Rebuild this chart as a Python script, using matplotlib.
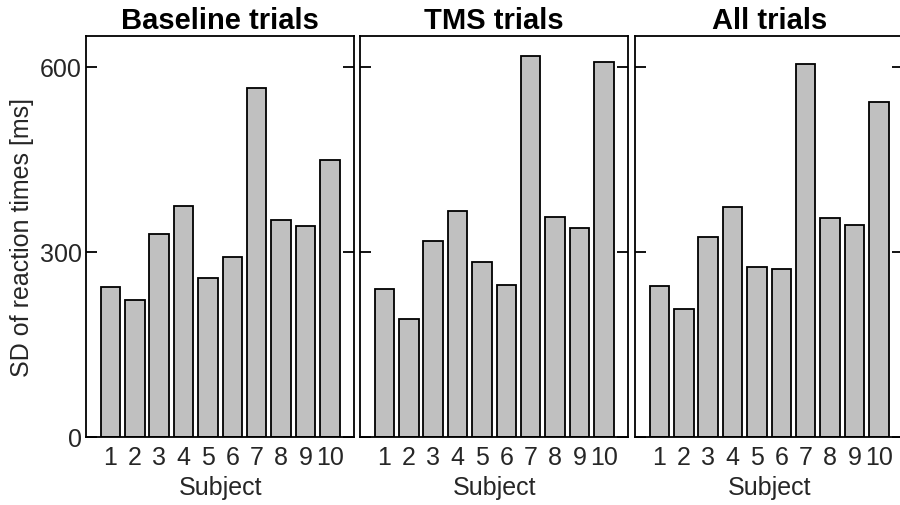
import matplotlib
matplotlib.use("Agg")
import matplotlib.pyplot as plt

subjects = [1, 2, 3, 4, 5, 6, 7, 8, 9, 10]
baseline_sd = [243, 221, 328, 374, 257, 292, 565, 352, 341, 448]
tms_sd = [240, 191, 318, 366, 284, 246, 617, 357, 338, 608]
all_sd = [244, 207, 324, 372, 275, 272, 605, 355, 344, 543]
titles = ["Baseline trials", "TMS trials", "All trials"]
yticks = [0, 300, 600]

plt.rcParams['font.family'] = ['Liberation Sans', 'DejaVu Sans']
txt = '#262626'

fig = plt.figure(figsize=(9, 5.06), dpi=100)
lefts = [0.0956, 0.4, 0.7056]
datos = [baseline_sd, tms_sd, all_sd]

for i, (left, vals, titulo) in enumerate(zip(lefts, datos, titles)):
    ax = fig.add_axes([left, 0.135, 0.298, 0.791])
    ax.bar(subjects, vals, width=0.8, color='#c0c0c0', edgecolor='black', linewidth=1.3)
    ax.set_xlim(0, 11)
    ax.set_ylim(0, 649)
    ax.set_xticks(subjects)
    ax.set_xticklabels([str(s) for s in subjects], fontsize=18, color=txt)
    ax.set_yticks(yticks)
    ax.tick_params(axis='x', length=0, pad=6)
    ax.tick_params(axis='y', direction='in', length=8, width=1.3, right=True, left=True,
                   labelsize=18, labelcolor=txt, pad=3)
    if i > 0:
        ax.set_yticklabels([])
    else:
        ax.set_ylabel('SD of reaction times [ms]', fontsize=18, color=txt, labelpad=4)
    for sp in ax.spines.values():
        sp.set_linewidth(1.3)
    ax.set_xlabel('Subject', fontsize=18, color=txt, labelpad=4)
    ax.set_title(titulo, fontsize=21, fontweight='bold', pad=6)

fig.savefig('out.png', dpi=100)
